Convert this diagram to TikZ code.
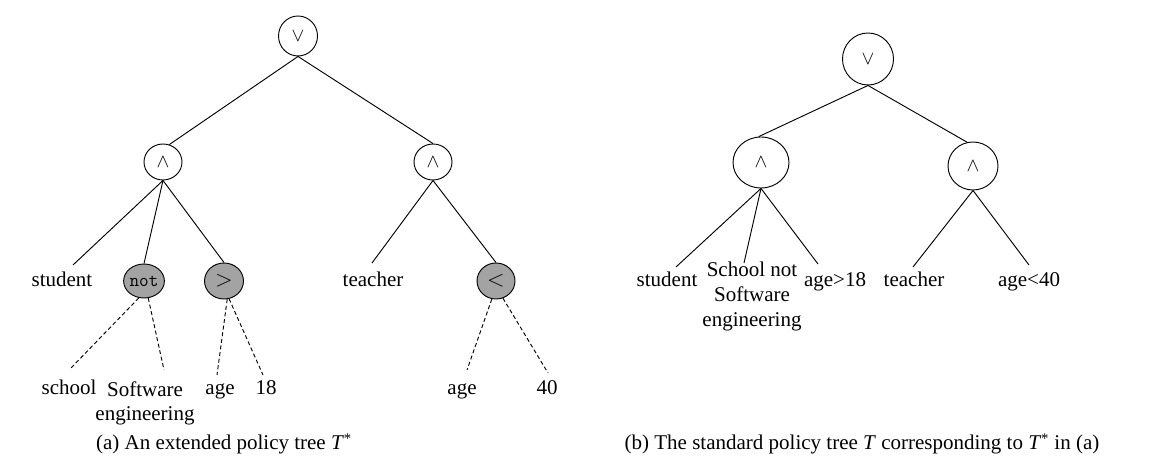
\documentclass[tikz,border=0pt]{standalone}
\usepackage{fontspec}
\setmainfont{Liberation Serif}
\usetikzlibrary{shapes.geometric,calc}
\definecolor{opgray}{RGB}{163,163,163}
\begin{document}
\begin{tikzpicture}[x=0.75pt,y=-0.75pt,
  op/.style={ellipse,draw,line width=0.7pt,inner sep=0pt,font=\fontsize{14}{16}\selectfont},
  gop/.style={op,fill=opgray,font=\fontsize{16}{17}\selectfont},
  lbl/.style={inner sep=0pt,font=\fontsize{15.75}{18.5}\selectfont,anchor=base},
  mlbl/.style={inner sep=0pt,font=\fontsize{15.75}{18.5}\selectfont,align=center,anchor=north},
  edge/.style={line width=0.7pt},
  dedge/.style={line width=0.7pt,dash pattern=on 3pt off 2pt}]
\useasboundingbox (0,0) rectangle (1168,473);

% ---------- (a) extended policy tree ----------
\node[op,minimum width=29.25pt,minimum height=30pt] (r1) at (298,36) {$\vee$};
\node[op,minimum width=28.5pt,minimum height=27pt] (a1) at (163,162) {$\wedge$};
\node[op,minimum width=28.5pt,minimum height=27pt] (a2) at (433,162) {$\wedge$};
\node[gop,minimum width=30pt,minimum height=25.5pt] (nt) at (144,281) {\ttfamily\fontsize{14}{15}\selectfont not};
\node[gop,minimum width=29.25pt,minimum height=27pt] (gt) at (224,281) {$>$};
\node[gop,minimum width=28.5pt,minimum height=27pt] (lt) at (496,281) {$<$};

\node[lbl] (stu) at (62,287) {student};
\node[lbl] (tea) at (373,287) {teacher};
\node[lbl] (sch) at (69,395) {school};
\node[mlbl] (swe) at (145,381) {Software\\engineering};
\node[lbl] (agea) at (220,395) {age};
\node[lbl] (eig) at (266,395) {18};
\node[lbl] (ageb) at (462,395) {age};
\node[lbl] (frt) at (547,395) {40};

\draw[edge] (r1.south) -- (a1.70);
\draw[edge] (r1.south) -- (a2.north);
\draw[edge] (a1.south) -- ($(stu.base)+(11,-22)$);
\draw[edge] (a1.south) -- (nt.north);
\draw[edge] (a1.south) -- (gt.north);
\draw[edge] (a2.south) -- ($(tea.base)+(-1,-24)$);
\draw[edge] (a2.south) -- (lt.north);

\draw[dedge] (nt.253) -- ($(sch.base)+(2,-27)$);
\draw[dedge] (nt.284) -- ($(swe.north)+(19,-11)$);
\draw[dedge] (gt.280) -- ($(agea.base)+(-3,-20)$);
\draw[dedge] (gt.286) -- ($(eig.base)+(-3,-20)$);
\draw[dedge] (lt.257) -- ($(ageb.base)+(5,-25)$);
\draw[dedge] (lt.292) -- ($(frt.base)+(1,-22)$);

\node[lbl] (capa) at (224,450) {(a) An extended policy tree \textit{T}\textsuperscript{*}};

% ---------- (b) standard policy tree ----------
\node[op,minimum width=38.25pt,minimum height=39pt] (r2) at (868,59) {$\vee$};
\node[op,minimum width=42pt,minimum height=38.25pt] (a3) at (761,162.5) {$\wedge$};
\node[op,minimum width=37.5pt,minimum height=36pt] (a4) at (973,166) {$\wedge$};

\node[lbl] (stub) at (667,287) {student};
\node[mlbl] (sn) at (752,262) {School not\\Software\\engineering};
\node[lbl] (agt) at (835,287) {age>18};
\node[lbl] (teab) at (914,287) {teacher};
\node[lbl] (alt) at (1029,287) {age<40};

\draw[edge] (r2.south) -- (a3.95);
\draw[edge] (r2.south) -- (a4.104);
\draw[edge] (a3.south) -- ($(stub.base)+(9,-20)$);
\draw[edge] (a3.south) -- ($(sn.north)+(-8,1)$);
\draw[edge] (a3.south) -- ($(agt.base)+(-17,-23)$);
\draw[edge] (a4.south) -- ($(teab.base)+(-1,-20)$);
\draw[edge] (a4.south) -- ($(alt.base)+(0,-22)$);

\node[lbl] (capb) at (862,450) {(b) The standard policy tree \textit{T} corresponding to \textit{T}\textsuperscript{*} in (a)};
\end{tikzpicture}
\end{document}
